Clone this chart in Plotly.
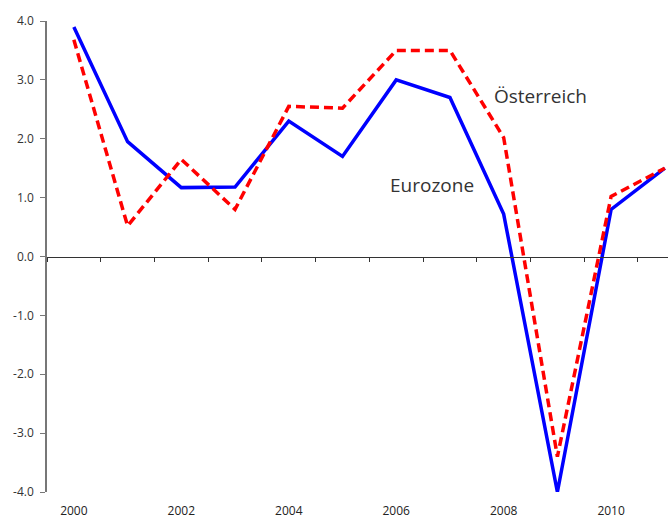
import plotly.graph_objects as go

years = [2000, 2001, 2002, 2003, 2004, 2005, 2006, 2007, 2008, 2009, 2010, 2011]
eurozone = [3.9, 1.95, 1.17, 1.18, 2.3, 1.7, 3.0, 2.7, 0.72, -4.0, 0.8, 1.5]
oesterreich = [3.68, 0.52, 1.65, 0.8, 2.55, 2.52, 3.5, 3.5, 2.02, -3.4, 1.02, 1.5]
x_tick_labels = ["2000", "2002", "2004", "2006", "2008", "2010"]
y_ticks = [-4, -3, -2, -1, 0, 1, 2, 3, 4]

idx = list(range(len(years)))
font = "Open Sans, Lato, sans-serif"

fig = go.Figure()
fig.add_trace(go.Scatter(x=idx, y=eurozone, mode="lines", name="Eurozone",
                         line=dict(color="#0000FF", width=3.5)))
fig.add_trace(go.Scatter(x=idx, y=oesterreich, mode="lines", name="Österreich",
                         line=dict(color="#FF0000", width=3.5, dash="9px,5px")))
# invisible trace for zero-line axis
fig.add_trace(go.Scatter(x=[0], y=[0], xaxis="x2", mode="none", showlegend=False, hoverinfo="skip"))

label_idx = [years.index(int(t)) for t in x_tick_labels]
xr = [-0.5, -0.5 + (668 - 47.3) / 53.7]

fig.update_layout(
    width=668, height=521,
    margin=dict(l=47, r=0, t=21, b=29),
    paper_bgcolor="white", plot_bgcolor="white",
    showlegend=False,
    font=dict(family=font, color="#333333"),
    xaxis=dict(range=xr, tickvals=label_idx, ticktext=x_tick_labels, automargin=False,
               showgrid=False, zeroline=False, showline=False, ticks="",
               tickfont=dict(size=12, color="#222222"), ticklabelstandoff=10),
    xaxis2=dict(range=xr, overlaying="x", anchor="free", position=0.5, side="bottom",
                tickvals=[i - 0.5 for i in range(len(years) + 1)], automargin=False,
                showticklabels=False, ticks="outside", ticklen=4, tickcolor="#333333",
                showline=True, linecolor="#333333", linewidth=1, showgrid=False, zeroline=False),
    yaxis=dict(range=[-4, 4], tickvals=y_ticks, ticktext=[f"{v:.1f}" for v in y_ticks],
               automargin=False,
               showgrid=False, zeroline=False, showline=True, linecolor="#777777", linewidth=1.5,
               ticks="outside", ticklen=5, tickcolor="#777777",
               tickfont=dict(size=12, color="#333333"), ticklabelstandoff=4),
    annotations=[
        dict(x=7.78, y=2.72, text="Österreich", showarrow=False, xanchor="left", yanchor="middle",
             font=dict(size=19, color="#333333", family=font)),
        dict(x=5.84, y=1.21, text="Eurozone", showarrow=False, xanchor="left", yanchor="middle",
             font=dict(size=19, color="#333333", family=font)),
    ],
)

fig.write_html("out.html", config={"displayModeBar": False},
               post_script="document.body.style.margin='0';document.body.style.overflow='hidden';")
